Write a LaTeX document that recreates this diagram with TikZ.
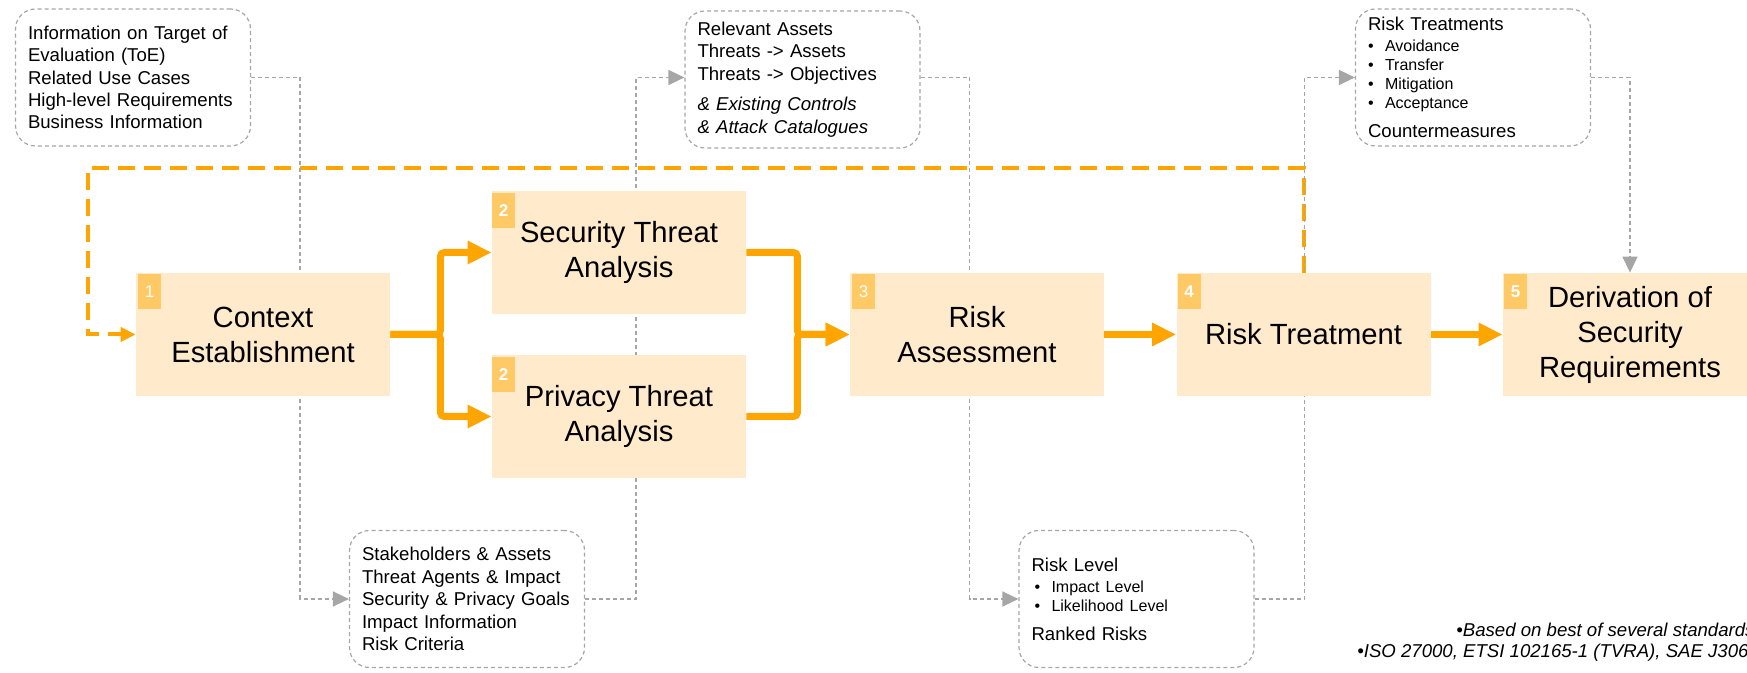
\documentclass[tikz,border=0pt]{standalone}
\usepackage{fontspec}
\setmainfont{Liberation Sans}
\usetikzlibrary{arrows.meta,calc,backgrounds}

\definecolor{stagefill}{HTML}{FFEBCC}
\definecolor{badgefill}{HTML}{FFC966}
\definecolor{flowc}{HTML}{FFA500}
\definecolor{feedc}{HTML}{A6A6A6}
\newcommand{\itemf}{\fontsize{8}{9.5}\selectfont}
\newcommand{\blt}{\makebox[8.5pt][l]{\textbullet}}

\tikzset{
  stage/.style={fill=stagefill,minimum width=127pt,minimum height=61.5pt,inner sep=0pt,
    align=center,font=\fontsize{14.6}{17.5}\selectfont},
  badge/.style={fill=badgefill,text=white,minimum width=11.5pt,minimum height=17.5pt,
    inner sep=0pt,anchor=north west,font=\fontsize{8.5}{10}\selectfont},
  note/.style={draw=feedc,dash pattern=on 2pt off 1.5pt,line width=0.6pt,rounded corners=10pt,
    text width=105pt,inner xsep=6.25pt,inner ysep=0pt,minimum height=68.5pt,align=left,
    font=\fontsize{9.3}{11.2}\selectfont},
  feed/.style={draw=feedc,dash pattern=on 2pt off 1.5pt,line width=0.7pt,
    -{Triangle[length=8pt,width=7.5pt]}},
  flow/.style={draw=flowc,line width=3.5pt,rounded corners=2pt,
    -{Triangle[length=12pt,width=11pt]}},
  backflow/.style={draw=flowc,line width=2pt,dash pattern=on 8.5pt off 4.5pt,
    -{Triangle[length=7.5pt,width=7pt]}},
  foot/.style={anchor=base west,inner sep=0pt,font=\fontsize{9.3}{11.2}\selectfont\itshape}
}

\begin{document}
\begin{tikzpicture}[x=0.5pt,y=-0.5pt]
\useasboundingbox (0,0) rectangle (1747,673);

% stages
\node[stage] (ctx) at (263,334.5) {Context\\Establishment};
\node[stage] (sec) at (619,252.5) {Security Threat\\Analysis};
\node[stage] (prv) at (619,416.5) {Privacy Threat\\Analysis};
\node[stage] (ass) at (977,334.5) {Risk\\Assessment};
\node[stage] (trt) at (1303.5,334.5) {Risk Treatment};
\node[stage] (req) at (1630,334.5) {Derivation of\\Security\\Requirements};

\node[badge] (b1) at ([xshift=1pt,yshift=-0.5pt]ctx.north west) {1};
\node[badge] (b2) at ([yshift=-1pt]sec.north west) {\textbf{2}};
\node[badge] (b3) at ([yshift=-1pt]prv.north west) {\textbf{2}};
\node[badge] (b4) at ([xshift=1pt,yshift=-0.5pt]ass.north west) {3};
\node[badge] (b5) at ([xshift=0.5pt,yshift=-0.5pt]trt.north west) {\textbf{4}};
\node[badge] (b6) at ([xshift=0.5pt,yshift=-0.5pt]req.north west) {\textbf{5}};

% inputs and outputs
\node[note] (toe) at (133,77.5) {Information on Target of\\Evaluation (ToE)\\Related Use Cases\\
  High-level Requirements\\Business Information};
\node[note] (ast) at (802.5,79.5) {Relevant Assets\\Threats -> Assets\\Threats -> Objectives\\[4pt]
  \textit{\& Existing Controls}\\\textit{\& Attack Catalogues}};
\node[note] (msr) at (1473,77.5) {Risk Treatments\\[-0.7pt]
  {\itemf\blt Avoidance}\\[-1.7pt]{\itemf\blt Transfer}\\[-1.7pt]
  {\itemf\blt Mitigation}\\[-1.7pt]{\itemf\blt Acceptance}\\[3.3pt]Countermeasures};
\node[note] (stk) at (467,599) {Stakeholders \& Assets\\Threat Agents \& Impact\\
  Security \& Privacy Goals\\Impact Information\\Risk Criteria};
\node[note] (lvl) at (1136.5,599) {Risk Level\\[-0.7pt]
  {\itemf\hspace{1.5pt}\blt Impact Level}\\[-1.7pt]{\itemf\hspace{1.5pt}\blt Likelihood Level}\\[3.3pt]
  Ranked Risks};

\node[foot] (fn1) at (1456,637) {\textbullet Based on best of several standards};
\node[foot] (fn2) at (1357,658) {\textbullet ISO 27000, ETSI 102165-1 (TVRA), SAE J3061};

\begin{scope}[on background layer]
\draw[backflow] (trt.north) -- ++(0,-105) -| ($(ctx.west)+(-48,0)$) -- (ctx.west);

\draw[feed] (toe.east) -- ++(49,0) |- (stk.west);
\draw[feed] (stk.east) -- ++(51,0) |- ([yshift=1pt]ast.west);
\draw[feed] ([yshift=1pt]ast.east) -- ++(49,0) |- (lvl.west);
\draw[feed] (lvl.east) -- ++(50,0) |- (msr.west);
\draw[feed] (msr.east) -| (req.north);

\draw[flow] (ctx.east) -- ++(50,0) |- (sec.west);
\draw[flow] (ctx.east) -- ++(50,0) |- (prv.west);
\draw[flow] (sec.east) -- ++(51,0) |- (ass.west);
\draw[flow] (prv.east) -- ++(51,0) |- (ass.west);
\draw[flow] (ass.east) -- (trt.west);
\draw[flow] (trt.east) -- (req.west);
\end{scope}
\end{tikzpicture}
\end{document}
